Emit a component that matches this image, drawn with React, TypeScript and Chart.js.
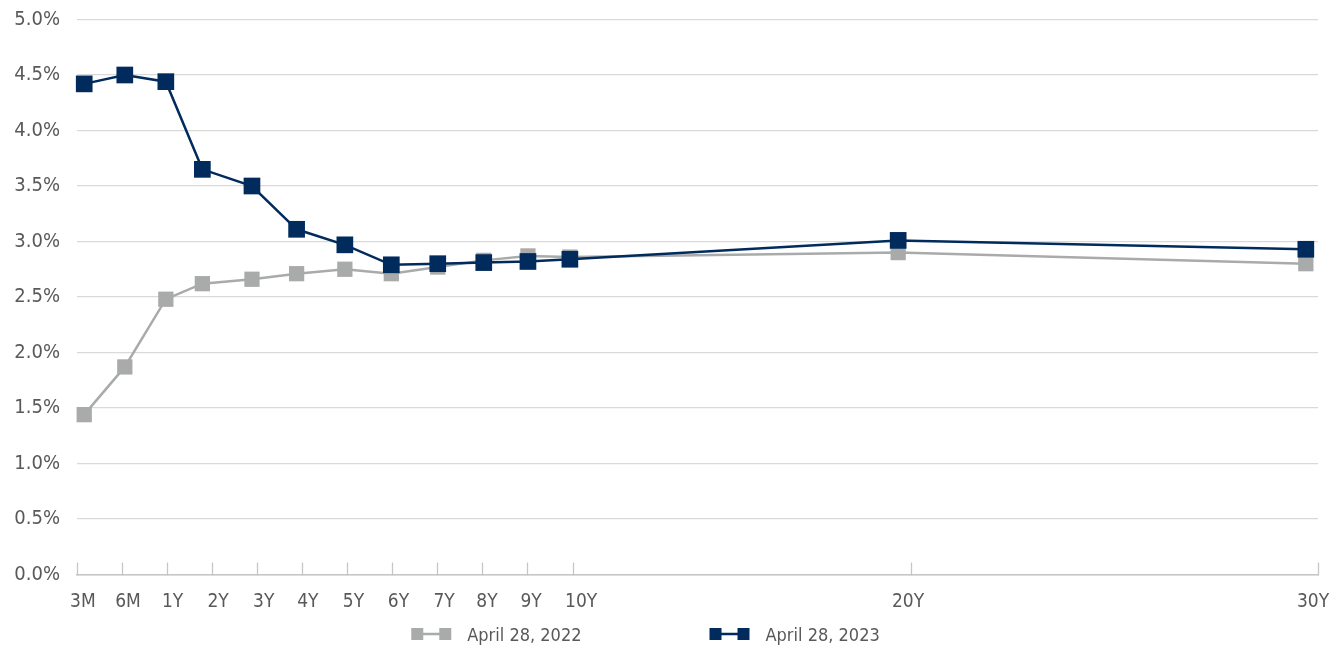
import React, { useEffect, useRef } from 'react';
import { Chart, registerables } from 'chart.js';

Chart.register(...registerables);

// ---- data ----
const MATURITIES = ['3M', '6M', '1Y', '2Y', '3Y', '4Y', '5Y', '6Y', '7Y', '8Y', '9Y', '10Y', '20Y', '30Y'];
// axis positions (in tick-spacing units) of the maturity tick marks
const TICK_POSITIONS = [0, 1, 2, 3, 4, 5, 6, 7, 8, 9, 10, 11, 18.5, 27.52];
// axis positions of the maturity labels
const LABEL_POSITIONS = [0.13, 1.13, 2.12, 3.13, 4.14, 5.12, 6.13, 7.13, 8.14, 9.09, 10.07, 11.18, 18.43, 27.41];
// axis positions of the plotted points for each maturity
const POINT_POSITIONS = [0.16, 1.06, 1.97, 2.78, 3.88, 4.87, 5.94, 6.97, 8.0, 9.02, 10.0, 10.93, 18.21, 27.25];
const YIELDS_2022 = [1.44, 1.87, 2.48, 2.62, 2.66, 2.71, 2.75, 2.71, 2.77, 2.83, 2.87, 2.86, 2.9, 2.8];
const YIELDS_2023 = [4.42, 4.5, 4.44, 3.65, 3.5, 3.11, 2.97, 2.79, 2.8, 2.81, 2.82, 2.84, 3.01, 2.93];
const SERIES_LABELS = ['April 28, 2022', 'April 28, 2023'];
const Y_MIN = 0;
const Y_MAX = 5;
const Y_STEP = 0.5;

// ---- styles ----
const FONT_FAMILY = '"DejaVu Sans Condensed", "Liberation Sans Narrow", "Roboto", sans-serif';
const X_FONT_SIZE = 19;
const Y_FONT_SIZE = 20;
const LEGEND_FONT_SIZE = 18;
const TEXT_COLOR = '#595959';
const GREY = '#a9abaa';
const NAVY = '#002b5c';
const GRID_COLOR = '#d9d9d9';
const AXIS_COLOR = '#c6c6c6';

const legendPlugin = {
  id: 'lineMarkerLegend',
  afterDraw(chart: any) {
    const ctx = chart.ctx as CanvasRenderingContext2D;
    const items = chart.data.datasets.map((ds: any) => ({ label: ds.label, color: ds.borderColor }));
    ctx.save();
    ctx.font = `${LEGEND_FONT_SIZE}px ${FONT_FAMILY}`;
    const markerW = 40;
    const sq = 12;
    const gapText = 16;
    const gapItems = 128;
    const widths = items.map((it: any) => markerW + gapText + ctx.measureText(it.label).width);
    const total = widths.reduce((a: number, b: number) => a + b, 0) + gapItems * (items.length - 1);
    let x = chart.width / 2 - 24 - total / 2;
    const yMid = 634;
    items.forEach((it: any, i: number) => {
      ctx.fillStyle = it.color;
      ctx.strokeStyle = it.color;
      ctx.lineWidth = 2.5;
      ctx.beginPath();
      ctx.moveTo(x + sq / 2, yMid);
      ctx.lineTo(x + markerW - sq / 2, yMid);
      ctx.stroke();
      ctx.fillRect(x, yMid - sq / 2, sq, sq);
      ctx.fillRect(x + markerW - sq, yMid - sq / 2, sq, sq);
      ctx.fillStyle = TEXT_COLOR;
      ctx.textAlign = 'left';
      ctx.textBaseline = 'alphabetic';
      ctx.fillText(it.label, x + markerW + gapText, 640.5);
      x += widths[i] + gapItems;
    });
    ctx.restore();
  },
};

export default function App() {
  const canvasRef = useRef<HTMLCanvasElement | null>(null);

  useEffect(() => {
    document.body.style.margin = '0';
    const canvas = canvasRef.current;
    if (!canvas) return;

    const grey = POINT_POSITIONS.map((x, i) => ({ x, y: YIELDS_2022[i] }));
    const navy = POINT_POSITIONS.map((x, i) => ({ x, y: YIELDS_2023[i] }));
    const xMin = TICK_POSITIONS[0];
    const xMax = TICK_POSITIONS[TICK_POSITIONS.length - 1];

    const chart = new Chart(canvas, {
      type: 'line',
      data: {
        datasets: [
          {
            label: SERIES_LABELS[0],
            data: grey,
            xAxisID: 'x',
            borderColor: GREY,
            backgroundColor: GREY,
            borderWidth: 2.5,
            pointStyle: 'rect',
            pointRadius: 10.8,
            pointHoverRadius: 10.8,
            pointBorderWidth: 0,
            pointBackgroundColor: GREY,
            tension: 0,
            clip: false,
            order: 1,
          },
          {
            label: SERIES_LABELS[1],
            data: navy,
            xAxisID: 'x',
            borderColor: NAVY,
            backgroundColor: NAVY,
            borderWidth: 2.5,
            pointStyle: 'rect',
            pointRadius: 11.8,
            pointHoverRadius: 11.8,
            pointBorderWidth: 0,
            pointBackgroundColor: NAVY,
            tension: 0,
            clip: false,
            order: 0,
          },
        ],
      },
      options: {
        animation: false,
        responsive: true,
        maintainAspectRatio: false,
        layout: { padding: { top: 19.5, right: 21, bottom: 32.5, left: 0 } },
        plugins: {
          legend: { display: false },
          tooltip: { enabled: false },
        },
        scales: {
          x: {
            type: 'linear',
            position: 'bottom',
            weight: 1,
            min: xMin,
            max: xMax,
            afterBuildTicks: (scale: any) => {
              scale.ticks = TICK_POSITIONS.map((v) => ({ value: v }));
            },
            afterFit: (scale: any) => {
              scale.height = 0;
              scale.paddingLeft = 0;
              scale.paddingRight = 0;
            },
            grid: {
              drawOnChartArea: false,
              drawTicks: true,
              tickLength: -12,
              tickColor: AXIS_COLOR,
              tickWidth: 1.3,
            },
            border: { display: true, color: AXIS_COLOR, width: 1.5 },
            ticks: { display: false, autoSkip: false },
          },
          xLabels: {
            type: 'linear',
            position: 'bottom',
            weight: 2,
            min: xMin,
            max: xMax,
            afterBuildTicks: (scale: any) => {
              scale.ticks = LABEL_POSITIONS.map((v) => ({ value: v }));
            },
            afterFit: (scale: any) => {
              scale.height = 40;
              scale.paddingLeft = 0;
              scale.paddingRight = 0;
            },
            grid: { display: false, drawTicks: false },
            border: { display: false },
            ticks: {
              autoSkip: false,
              maxRotation: 0,
              padding: 16,
              color: TEXT_COLOR,
              font: { family: FONT_FAMILY, size: X_FONT_SIZE },
              callback: (_v: any, i: number) => MATURITIES[i],
            },
          },
          y: {
            min: Y_MIN,
            max: Y_MAX,
            afterFit: (scale: any) => {
              scale.width = 77;
              scale.paddingTop = 0;
              scale.paddingBottom = 0;
            },
            grid: { color: GRID_COLOR, lineWidth: 1.3, drawTicks: false },
            border: { display: false },
            ticks: {
              stepSize: Y_STEP,
              padding: 17,
              color: TEXT_COLOR,
              font: { family: FONT_FAMILY, size: Y_FONT_SIZE },
              callback: (v: any) => Number(v).toFixed(1) + '%',
            },
          },
        },
      },
      plugins: [legendPlugin],
    });

    return () => chart.destroy();
  }, []);

  return (
    <div style={{ position: 'relative', width: '1339px', height: '647px' }}>
      <canvas ref={canvasRef} />
    </div>
  );
}
